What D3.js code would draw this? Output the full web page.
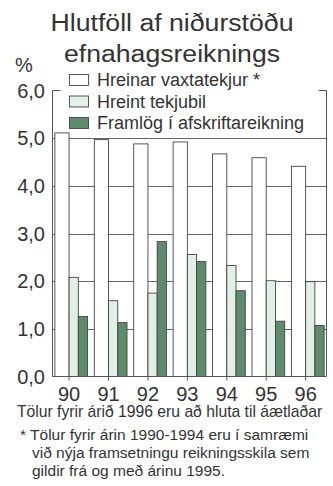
<!DOCTYPE html>
<html>
<head>
<meta charset="utf-8">
<script src="https://cdn.jsdelivr.net/npm/d3@7"></script>
<style>
  html, body { margin: 0; padding: 0; background: #fff; }
  svg { display: block; font-family: "Liberation Sans", Arial, Helvetica, sans-serif; }
</style>
</head>
<body>
<svg id="chart" width="333" height="486"></svg>
<script>
// Years and the three ratio series (% of balance sheet total)
const years = ["90", "91", "92", "93", "94", "95", "96"];
const netInterest = [5.11, 4.97, 4.88, 4.92, 4.67, 4.59, 4.41];
const netMargin   = [2.08, 1.59, 1.75, 2.56, 2.33, 2.01, 1.99];
const provisions  = [1.26, 1.13, 2.83, 2.41, 1.80, 1.16, 1.07];

const seriesNames = ["Hreinar vaxtatekjur *", "Hreint tekjubil", "Framlög í afskriftareikning"];
const seriesFills = ["#ffffff", "#e1efe5", "#5f8b6d"];
const yTicks = [0, 1, 2, 3, 4, 5, 6];
const yTickLabels = ["0,0", "1,0", "2,0", "3,0", "4,0", "5,0", "6,0"];

const titleLines = ["Hlutföll af niðurstöðu", "efnahagsreiknings"];
const unitLabel = "%";
const note1 = "Tölur fyrir árið 1996 eru að hluta til áætlaðar";
const note2 = ["* Tölur fyrir árin 1990-1994 eru í samræmi",
               "við nýja framsetningu reikningsskila sem",
               "gildir frá og með árinu 1995."];

const ink = "#333";
const lineCol = "#555";

const svg = d3.select("#chart");

const plotL = 52.5, plotR = 326.5, plotT = 90.5, plotB = 376.5;

const y = d3.scaleLinear().domain([0, 6]).range([plotB, plotT]);
const x0 = d3.scaleBand().domain(years).range([plotL, plotR])
  .paddingInner(0.17).paddingOuter(0.06);
// Position inside one year group: wide white bar, then two narrower bars
const x1 = d3.scaleLinear().domain([0, 1]).range([0, x0.bandwidth()]);
const subStops = [0, 0.435, 0.717, 1];

// Title (set in a wide face: glyphs stretched to the line width)
const titleWidths = [243, 216];
svg.append("g").selectAll("text").data(titleLines).join("text")
  .attr("x", (d, i) => 172 - titleWidths[i] / 2).attr("y", (d, i) => 31 + i * 31)
  .attr("textLength", (d, i) => titleWidths[i])
  .attr("lengthAdjust", "spacingAndGlyphs")
  .attr("font-size", 23).attr("fill", ink)
  .text(d => d);

svg.append("text").attr("x", 15).attr("y", 72)
  .attr("font-size", 20).attr("fill", ink).text(unitLabel);

// Gridlines
svg.append("g").selectAll("line").data(yTicks.filter(t => t > 0 && t < 6)).join("line")
  .attr("x1", plotL).attr("x2", plotR)
  .attr("y1", d => Math.round(y(d)) + 0.5).attr("y2", d => Math.round(y(d)) + 0.5)
  .attr("stroke", lineCol).attr("stroke-width", 0.9);

// Y tick labels
svg.append("g").selectAll("text").data(yTicks).join("text")
  .attr("x", 45).attr("y", d => y(d)).attr("dy", "0.36em")
  .attr("text-anchor", "end").attr("font-size", 20).attr("fill", ink)
  .text((d, i) => yTickLabels[i]);

// Bars
const allSeries = [netInterest, netMargin, provisions];
const groups = svg.append("g").selectAll("g").data(years).join("g")
  .attr("transform", d => `translate(${x0(d)},0)`);

groups.selectAll("rect")
  .data((d, i) => allSeries.map((s, k) => ({ k, v: s[i] })))
  .join("rect")
  .attr("x", d => x1(subStops[d.k]))
  .attr("width", d => x1(subStops[d.k + 1]) - x1(subStops[d.k]))
  .attr("y", d => y(d.v))
  .attr("height", d => y(0) - y(d.v))
  .attr("fill", d => seriesFills[d.k])
  .attr("stroke", "#444").attr("stroke-width", 0.9);

// Frame: sides, bottom and the two top corners
const frame = d3.path();
frame.moveTo(plotL + 8, plotT); frame.lineTo(plotL, plotT); frame.lineTo(plotL, plotB);
frame.lineTo(plotR, plotB); frame.lineTo(plotR, plotT); frame.lineTo(plotR - 8, plotT);
svg.append("path").attr("d", frame.toString())
  .attr("fill", "none").attr("stroke", lineCol).attr("stroke-width", 1);

// X axis ticks and labels
const tickX = d => x0(d) + x1(subStops[1]);
svg.append("g").selectAll("line").data(years).join("line")
  .attr("x1", tickX).attr("x2", tickX)
  .attr("y1", plotB).attr("y2", plotB + 4)
  .attr("stroke", lineCol);
svg.append("g").selectAll("text").data(years).join("text")
  .attr("x", tickX).attr("y", 401)
  .attr("text-anchor", "middle").attr("font-size", 20).attr("fill", ink)
  .text(d => d);

// Legend
const legend = svg.append("g").selectAll("g").data(seriesNames).join("g")
  .attr("transform", (d, i) => `translate(69,${74 + i * 21.5})`);
legend.append("rect")
  .attr("x", 0.5).attr("y", 0.5).attr("width", 19).attr("height", 11)
  .attr("fill", (d, i) => seriesFills[i])
  .attr("stroke", "#444").attr("stroke-width", 0.9);
legend.append("text")
  .attr("x", 28).attr("y", 12)
  .attr("font-size", 18).attr("fill", ink)
  .text(d => d);

// Notes
svg.append("text").attr("x", 17).attr("y", 417)
  .attr("font-size", 15.7).attr("fill", ink).text(note1);
svg.append("g").selectAll("text").data(note2).join("text")
  .attr("x", (d, i) => i === 0 ? 20 : 32)
  .attr("y", (d, i) => 440 + i * 18)
  .attr("font-size", 15.5).attr("fill", ink)
  .text(d => d);
</script>
</body>
</html>
